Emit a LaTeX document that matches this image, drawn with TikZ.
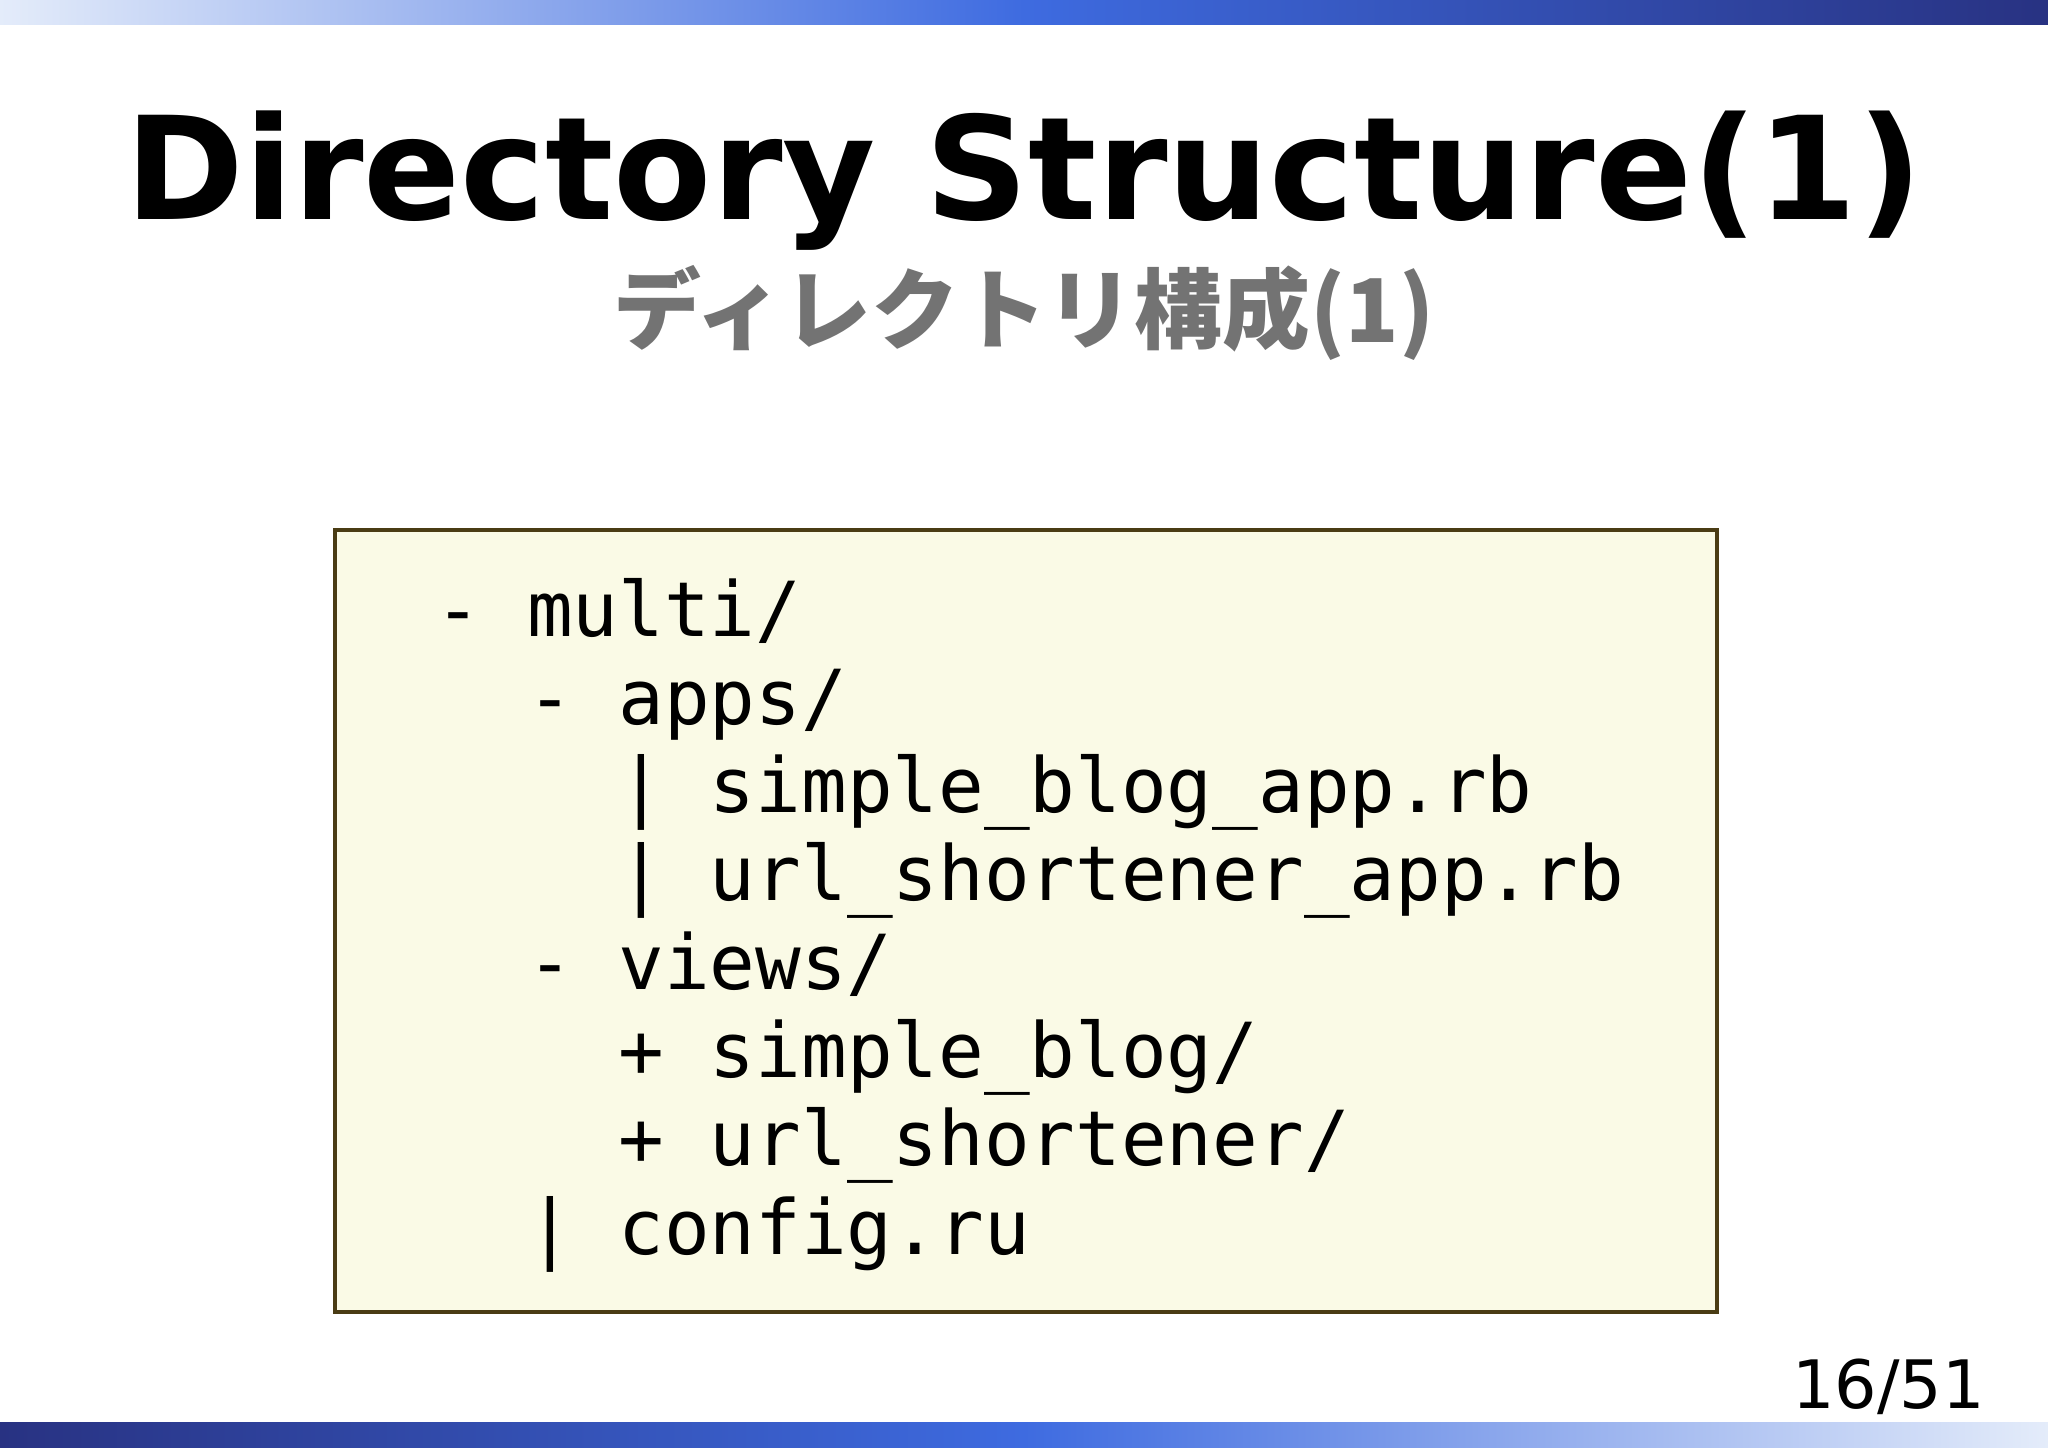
\documentclass[tikz,border=0pt]{standalone}
\usepackage{fontspec}
\setmainfont{DejaVu Sans}
\newfontfamily\monof{DejaVu Sans Mono}
\newfontfamily\cjkf{Noto Sans CJK JP}
\definecolor{barlight}{HTML}{E4ECFA}
\definecolor{barmid}{HTML}{3E6BE0}
\definecolor{bardark}{HTML}{283282}
\definecolor{boxfill}{HTML}{FAFAE6}
\definecolor{boxline}{HTML}{4A3C14}
\tikzset{codeline/.style={anchor=base west,inner sep=0pt,font=\monof\fontsize{21.6}{26}\selectfont}}
\begin{document}
\begin{tikzpicture}[x=0.01306cm,y=-0.01306cm]
\useasboundingbox (0,0) rectangle (1568,1110);
\shade[left color=barlight,right color=bardark,middle color=barmid] (0,0) rectangle (1568,19);
\shade[left color=bardark,right color=barlight,middle color=barmid] (0,1089) rectangle (1568,1108);
\node[inner sep=0pt,anchor=base,font=\bfseries\fontsize{40.7}{48}\selectfont] (title) at (784,168) {Directory Structure(1)};
\node[inner sep=0pt,anchor=base,text=black!55,font=\cjkf\bfseries\fontsize{25}{30}\selectfont] (sub) at (784,262) {ディレクトリ構成(1)};
\node[draw=boxline,line width=1.2pt,fill=boxfill,minimum width=1058*0.01306cm,minimum height=599*0.01306cm,anchor=north west,inner sep=0pt] (box) at (255,404) {};
\node[codeline] (l1) at (333,487) {- multi/};
\node[codeline] (l2) at (403,554.6) {- apps/};
\node[codeline] (l3) at (473,622.2) {| simple\_blog\_app.rb};
\node[codeline] (l4) at (473,689.8) {| url\_shortener\_app.rb};
\node[codeline] (l5) at (403,757.4) {- views/};
\node[codeline] (l6) at (473,825) {+ simple\_blog/};
\node[codeline] (l7) at (473,892.6) {+ url\_shortener/};
\node[codeline] (l8) at (403,960.2) {| config.ru};
\node[inner sep=0pt,anchor=base east,font=\fontsize{19}{23}\selectfont] (page) at (1520,1078) {16/51};
\end{tikzpicture}
\end{document}
